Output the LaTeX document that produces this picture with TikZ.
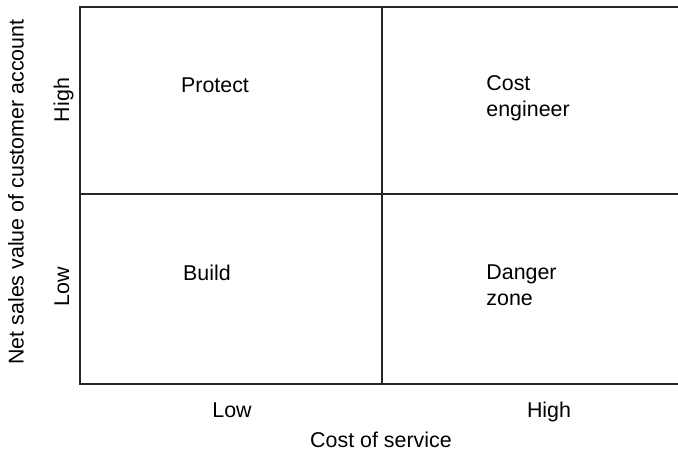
\documentclass[tikz,border=0pt]{standalone}
\usepackage{fontspec}
\setmainfont{Liberation Sans}
\usepackage{tikz}
\usetikzlibrary{positioning}

\tikzset{
    lbl/.style={inner sep=0pt, font=\fontsize{10.7}{13}\selectfont},
    cell/.style={lbl, align=left, anchor=west},
    grid/.style={line width=1pt, draw=black!85}
}

\begin{document}
\begin{tikzpicture}[x=0.5pt, y=-0.5pt]
        \useasboundingbox (0,0) rectangle (678,455);

        % corners of the matrix
        \coordinate (tl) at (80,7);
        \coordinate (br) at (684,384);
        \coordinate (mt) at (382,7);
        \coordinate (mb) at (382,384);
        \coordinate (ml) at (80,194);
        \coordinate (mr) at (684,194);

        \draw[grid] (tl) rectangle (br);
        \draw[grid] (mt) -- (mb);
        \draw[grid] (ml) -- (mr);

        \node[lbl] (protect) at (215,85) {Protect};
        \node[cell] (costeng) at (486,98) {Cost\\engineer};
        \node[lbl] (build) at (207,273) {Build};
        \node[cell] (danger) at (486,285) {Danger\\zone};

        \node[lbl, rotate=90, anchor=base] (yhigh) at (69,100) {High};
        \node[lbl, rotate=90, anchor=base] (ylow) at (69,287) {Low};
        \node[lbl, rotate=90] (ytitle) at (16,192) {Net sales value of customer account};

        \node[lbl, anchor=base] (xlow) at (232,417) {Low};
        \node[lbl, anchor=base] (xhigh) at (549,417) {High};
        \node[lbl] (xtitle) at (381,440) {Cost of service};

    \end{tikzpicture}
\end{document}
